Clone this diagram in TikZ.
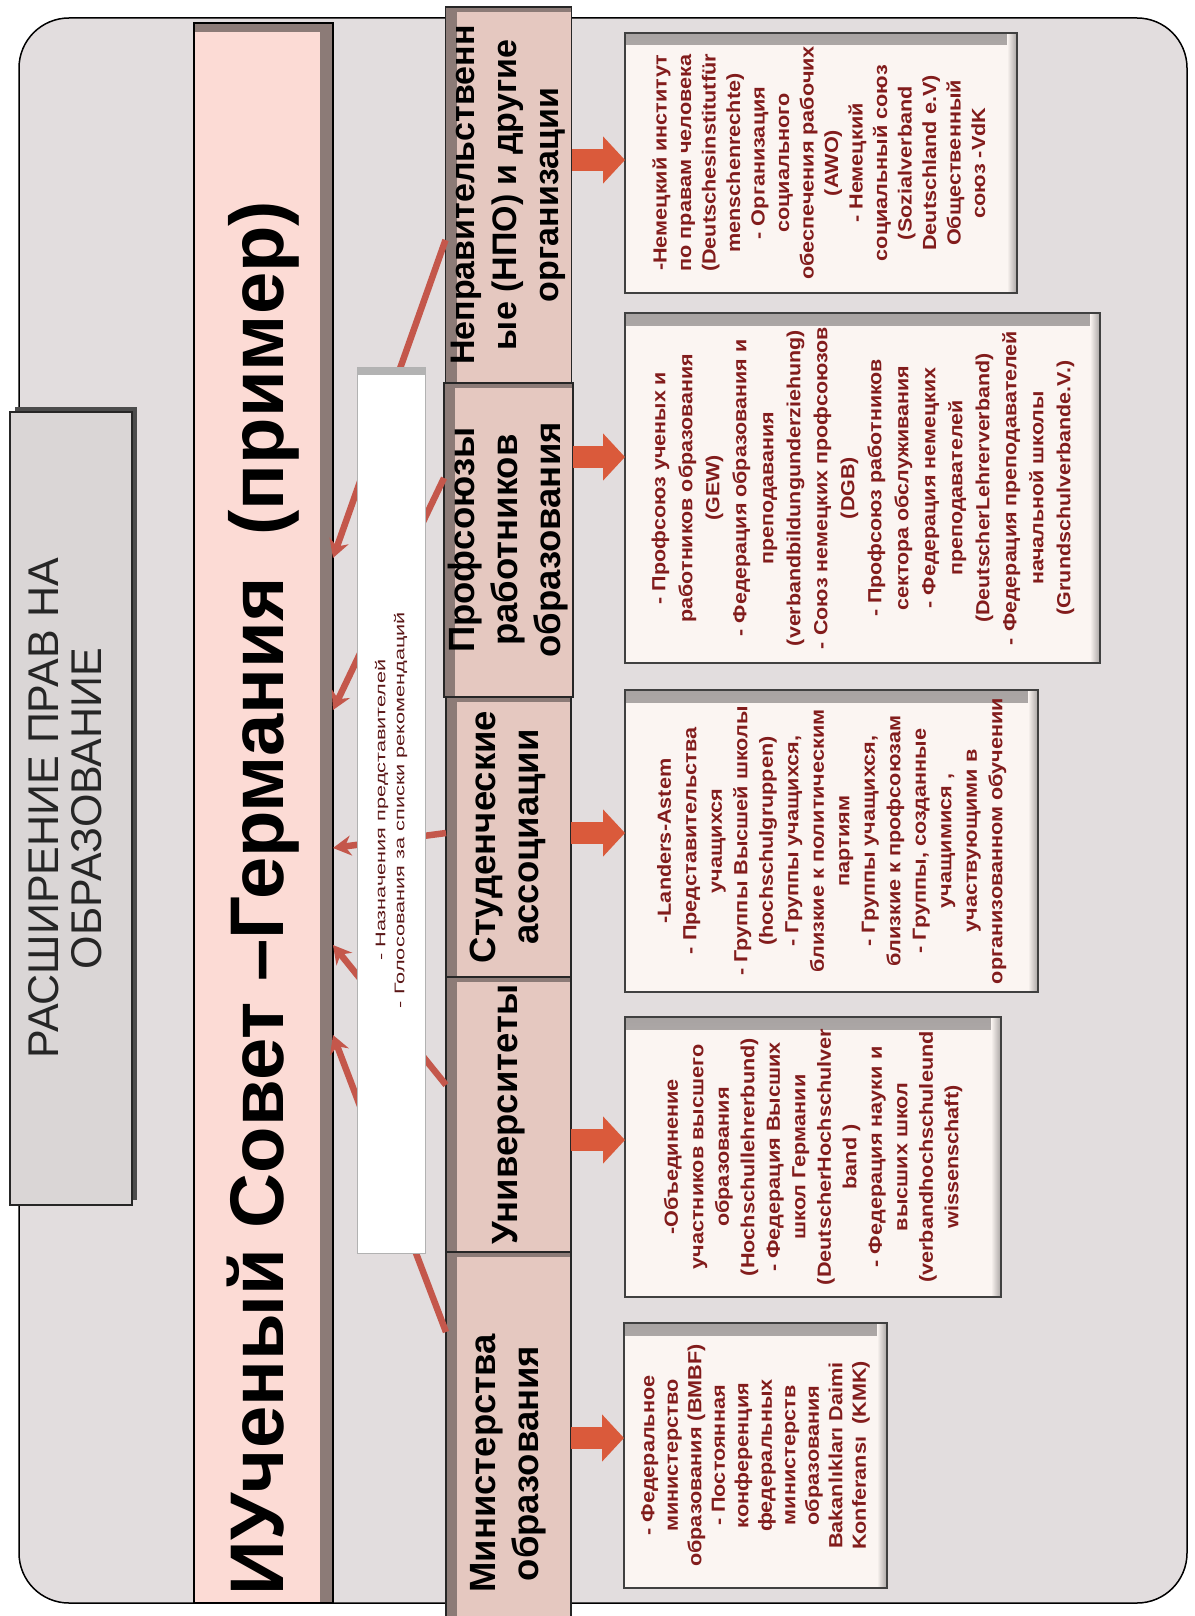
\documentclass[tikz,border=0pt]{standalone}
\usepackage{fontspec}
\setmainfont{Liberation Sans}
\usepackage{graphicx}
\usetikzlibrary{arrows.meta,calc,shadows}
\definecolor{bgc}{HTML}{E2DDDE}
\definecolor{titlef}{HTML}{DAD6D6}
\definecolor{pinkf}{HTML}{FCDBD5}
\definecolor{catf}{HTML}{E5C8C0}
\definecolor{bevel}{HTML}{8C7B77}
\definecolor{txtred}{HTML}{821C1C}
\definecolor{wtxt}{HTML}{5A1616}
\definecolor{arrc}{HTML}{C4574B}
\definecolor{blkc}{HTML}{DA5A3B}
\definecolor{boxf}{HTML}{FBF5F2}
\definecolor{boxband}{HTML}{A8A3A2}
\newcommand{\rt}[1]{\rotatebox{90}{\begin{tabular}{@{}c@{}}#1\end{tabular}}}
\newcommand{\rts}[2]{\rotatebox{90}{\scalebox{#1}[1]{\begin{tabular}{@{}c@{}}#2\end{tabular}}}}
\begin{document}
\begin{tikzpicture}[x=1pt,y=-1pt,
  every node/.style={inner sep=0pt, outer sep=0pt},
  titlebox/.style={draw=black!85, line width=1.5pt, fill=titlef, text=black!85,
    font=\fontsize{43}{41}\selectfont,
    drop shadow={shadow xshift=5pt, shadow yshift=5pt, fill=black!70, opacity=1}},
  council/.style={draw=black, line width=1.2pt, fill=pinkf,
    font=\bfseries\fontsize{76}{80}\selectfont,
    path picture={
      \fill[bevel] ([xshift=-13pt]path picture bounding box.north east) rectangle (path picture bounding box.south east);
      \fill[bevel] (path picture bounding box.north west) rectangle ([yshift=-9pt]path picture bounding box.north east);}},
  catbox/.style={draw=black!85, line width=1.5pt, fill=catf,
    font=\bfseries\fontsize{36.5}{43}\selectfont,
    path picture={
      \fill[bevel] (path picture bounding box.south west) rectangle ([xshift=11pt]path picture bounding box.north west);
      \fill[bevel] (path picture bounding box.north west) rectangle ([yshift=-5pt]path picture bounding box.north east);}},
  wbox/.style={draw=black!30, line width=0.8pt, fill=white, text=wtxt,
    font=\fontsize{14}{19}\selectfont,
    path picture={
      \shade[top color=black!30, bottom color=white] (path picture bounding box.north west) rectangle ([yshift=-7pt]path picture bounding box.north east);}},
  tbox/.style={draw=black!75, line width=1.2pt, fill=boxf, text=txtred,
    font=\bfseries\fontsize{19}{24}\selectfont,
    path picture={
      \shade[top color=boxband, bottom color=boxf] (path picture bounding box.north west) rectangle ([yshift=-12pt]path picture bounding box.north east);
      \shade[left color=boxf, right color=boxband] ([xshift=-10pt]path picture bounding box.north east) rectangle (path picture bounding box.south east);}},
  thinarr/.style={line width=6.5pt, draw=arrc, -{Stealth[length=18pt,width=20pt]}},
  blockarr/.style={line width=22pt, draw=blkc, -{Triangle[length=22pt,width=46pt]}}
]
\useasboundingbox (0,0) rectangle (1194,1616);
\fill[white] (0,0) rectangle (1194,1616);
\draw[fill=bgc, line width=1.5pt, rounded corners=50pt] (19,18) rectangle (1187,1603);

% title
\node[titlebox, minimum width=122pt, minimum height=793pt] (title) at (71,808.5)
  {\rt{РАСШИРЕНИЕ ПРАВ НА\\ОБРАЗОВАНИЕ}};

% council
\node[council, minimum width=139pt, minimum height=1580pt] (council) at (263.5,813)
  {\rotatebox{90}{ИУченый Совет –Германия\ \ (пример)\hspace*{170pt}}};

% categories
\node[catbox, font=\bfseries\fontsize{34}{42}\selectfont, minimum width=125pt, minimum height=376pt] (npo) at (508.5,195)
  {\rt{Неправительственн\\ые (НПО) и другие\\организации}};
\node[catbox, minimum width=125pt, minimum height=314pt] (prof) at (508.5,540)
  {\rt{Профсоюзы\\работников\\образования}};
\node[catbox, minimum width=125pt, minimum height=280pt] (stud) at (508.5,837)
  {\rt{Студенческие\\ассоциации}};
\node[catbox, minimum width=125pt, minimum height=275pt] (univ) at (508.5,1114.5)
  {\rt{Университеты}};
\node[catbox, minimum width=125pt, minimum height=423pt] (mini) at (508.5,1463.5)
  {\rt{Министерства\\образования}};

% thin arrows to council
\draw[thinarr] ($(npo.west)+(0,45)$) -- ($(council.east)+(0,-255)$);
\draw[thinarr] ($(prof.west)+(0,-62)$) -- ($(council.east)+(0,-103)$);
\draw[thinarr] ($(stud.west)+(0,-4)$) -- ($(council.east)+(0,35)$);
\draw[thinarr] ($(univ.west)+(0,-29.5)$) -- ($(council.east)+(0,132)$);
\draw[thinarr] ($(mini.west)+(0,-131.5)$) -- ($(council.east)+(0,222)$);

% white box
\node[wbox, minimum width=68pt, minimum height=886pt] (wb) at (391,810)
  {\rts{1.55}{- Назначения представителей\\- Голосования за списки рекомендаций}};

% text boxes
\node[tbox, font=\bfseries\fontsize{19}{24.5}\selectfont, minimum width=392pt, minimum height=260pt] (t5) at (821,163)
  {\rts{1.14}{-Немецкий институт\\по правам человека\\(Deutschesinstitutfür\\menschenrechte)\\- Организация\\социального\\обеспечения рабочих\\(AWO)\\- Немецкий\\социальный союз\\(Sozialverband\\Deutschland e.V)\\Общественный\\союз -VdK}};
\node[tbox, font=\bfseries\fontsize{19}{27}\selectfont, minimum width=475pt, minimum height=350pt] (t4) at (862.5,488)
  {\rts{1.13}{- Профсоюз ученых и\\работников образования\\(GEW)\\- Федерация образования и\\преподавания\\(verbandbildungunderziehung)\\- Союз немецких профсоюзов\\(DGB)\\- Профсоюз работников\\сектора обслуживания\\- Федерация немецких\\преподавателей\\(DeutscherLehrerverband)\\- Федерация преподавателей\\начальной школы\\(Grundschulverbande.V.)}};
\node[tbox, font=\bfseries\fontsize{19}{25.5}\selectfont, minimum width=413pt, minimum height=302pt] (t3) at (831.5,841)
  {\rts{1.14}{-Landers-Astem\\- Представительства\\учащихся\\- Группы Высшей школы\\(hochschulgruppen)\\- Группы учащихся,\\близкие к политическим\\партиям\\- Группы учащихся,\\близкие к профсоюзам\\- Группы, созданные\\учащимися ,\\участвующими в\\организованном обучении}};
\node[tbox, font=\bfseries\fontsize{19}{25.5}\selectfont, minimum width=376pt, minimum height=280pt] (t2) at (813,1157)
  {\rts{1.14}{-Объединение\\участников высшего\\образования\\(Hochschullehrerbund)\\- Федерация Высших\\школ Германии\\(DeutscherHochschulver\\band )\\- Федерация науки и\\высших школ\\(verbandhochschuleund\\wissenschaft)}};
\node[tbox, font=\bfseries\fontsize{19}{23.5}\selectfont, minimum width=263pt, minimum height=265pt] (t1) at (755.5,1455.5)
  {\rts{1.14}{- Федеральное\\министерство\\образования (BMBF)\\- Постоянная\\конференция\\федеральных\\министерств\\образования\\Bakanlıkları Daimi\\Konferansı\ \ (KMK)}};

% block arrows
\coordinate (a5) at ($(t5.west)+(0,-3)$);
\coordinate (a4) at ($(t4.west)+(0,-31)$);
\coordinate (a3) at ($(t3.west)+(0,-8)$);
\coordinate (a2) at ($(t2.west)+(0,-17)$);
\coordinate (a1) at ($(t1.west)+(0,-17.5)$);
\draw[blockarr] (npo.east |- a5) -- (a5);
\draw[blockarr] (prof.east |- a4) -- (a4);
\draw[blockarr] (stud.east |- a3) -- (a3);
\draw[blockarr] (univ.east |- a2) -- (a2);
\draw[blockarr] (mini.east |- a1) -- (a1);
\end{tikzpicture}
\end{document}
